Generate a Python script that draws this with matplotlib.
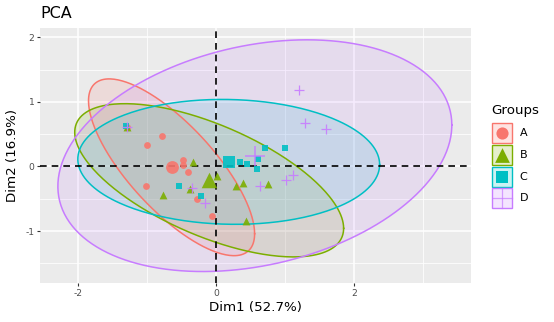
import numpy as np
import matplotlib
matplotlib.use('Agg')
import matplotlib.pyplot as plt
from matplotlib.patches import Rectangle
from matplotlib.colors import to_rgb

# ---------------- data ----------------
groups = ['A', 'B', 'C', 'D']
colors = ['#F8766D', '#7CAE00', '#00BFC4', '#C77CFF']
markers = ['o', '^', 's', '+']

a_x = [-1.29, -0.78, -1.00, -0.48, -0.47, -0.41, -1.02, -0.28, -0.05]
a_y = [0.62, 0.48, 0.33, 0.10, 0.03, -0.09, -0.30, -0.51, -0.77]
b_x = [-1.29, -0.33, -0.76, -0.38, 0.02, 0.29, 0.39, 0.76, 0.43]
b_y = [0.62, 0.065, -0.44, -0.35, -0.14, -0.30, -0.26, -0.27, -0.85]
c_x = [-1.30, -0.54, -0.21, 0.35, 0.45, 0.61, 0.59, 0.72, 1.01]
c_y = [0.63, -0.31, -0.45, 0.075, 0.04, 0.12, -0.04, 0.29, 0.29]
d_x = [-1.29, 1.21, 1.29, 1.60, 1.12, 1.02, 0.64, -0.16, -0.34]
d_y = [0.62, 1.18, 0.67, 0.58, -0.13, -0.21, -0.30, -0.57, -0.33]

group_x = [a_x, b_x, c_x, d_x]
group_y = [a_y, b_y, c_y, d_y]

x_ticks = [-2, 0, 2]
y_ticks = [-1, 0, 1, 2]
x_label = 'Dim1 (52.7%)'
y_label = 'Dim2 (16.9%)'
title = 'PCA'
legend_title = 'Groups'

# F quantile qf(0.95, 2, n-1) with n = 9 (normal-type 95% ellipse)
F_Q = 4.459

# ---------------- figure ----------------
plt.rcParams['axes.unicode_minus'] = False
W, H = 554, 322
fig = plt.figure(figsize=(W / 100, H / 100), dpi=100)
L, R, T, B = 40, 471, 28, 283
ax = fig.add_axes([L / W, 1 - B / H, (R - L) / W, (B - T) / H])
ax.set_facecolor('#EBEBEB')
for s in ax.spines.values():
    s.set_visible(False)

ax.set_xticks(x_ticks)
ax.set_yticks(y_ticks)
ax.set_xticks([-1, 1, 3], minor=True)
ax.set_yticks([-1.5, -0.5, 0.5, 1.5], minor=True)
ax.set_xlim(-2.55, 3.70)
ax.set_ylim(-1.806, 2.147)
ax.grid(True, which='major', color='white', lw=1.1, zorder=0)
ax.grid(True, which='minor', color='white', lw=0.55, zorder=0)
ax.set_axisbelow(True)
ax.tick_params(which='major', length=2.5, width=0.8, color='#333333',
               labelsize=6.6, labelcolor='#4D4D4D', pad=1.5)
ax.tick_params(which='minor', length=0)

t = np.linspace(0, 2 * np.pi, 300)
circle = np.vstack([np.cos(t), np.sin(t)])
r = np.sqrt(2 * F_Q)

for gx, gy, col in zip(group_x, group_y, colors):
    gx = np.array(gx); gy = np.array(gy)
    cov = np.cov(gx, gy)
    chol = np.linalg.cholesky(cov)
    pts = np.array([[gx.mean()], [gy.mean()]]) + r * chol @ circle
    ax.fill(pts[0], pts[1], color=col, alpha=0.14, lw=0, zorder=1)
    ax.plot(pts[0], pts[1], color=col, lw=1.1, zorder=2)

ax.axhline(0, color='black', lw=1.2, ls=(0, (4, 3)), zorder=3)
ax.axvline(0, color='black', lw=1.2, ls=(0, (4, 3)), zorder=3)

small_sizes = {'o': 24, '^': 32, 's': 22, '+': 60}
big_sizes = {'o': 85, '^': 125, 's': 80, '+': 200}
for gx, gy, col, m in zip(group_x, group_y, colors, markers):
    ax.scatter(gx, gy, marker=m, s=small_sizes[m], color=col,
               lw=(0.9 if m == '+' else 0), alpha=0.9, zorder=4)
    ax.scatter([np.mean(gx)], [np.mean(gy)], marker=m, s=big_sizes[m], color=col,
               lw=(1.1 if m == '+' else 0), alpha=0.9, zorder=5)

fig.text(L / W, 1 - 14 / H, title, fontsize=11.5, color='black', ha='left', va='center')
fig.text((L + R) / 2 / W, 1 - 307 / H, x_label, fontsize=9.6, ha='center', va='center')
fig.text(13 / W, 1 - 155 / H, y_label, fontsize=9.6, ha='center', va='center', rotation=90)

# ---------------- legend ----------------
lg = fig.add_axes([0, 0, 1, 1], zorder=10)
lg.set_xlim(0, W)
lg.set_ylim(H, 0)
lg.axis('off')
lg.text(491.5, 110, legend_title, fontsize=9.6, ha='left', va='center')
key_tops = [122.7, 145, 166.7, 188.3]
for top, g, col, m in zip(key_tops, groups, colors, markers):
    rgb = np.array(to_rgb(col))
    fill = 1 - 0.2 * (1 - rgb)
    lg.add_patch(Rectangle((492.3, top), 20, 20, facecolor=fill, edgecolor=col, lw=1.0))
    cx, cy = 502.3, top + 10
    if m == '+':
        lg.plot([492.8, 511.8], [cy, cy], color=col, lw=0.9, alpha=0.7)
        lg.plot([cx, cx], [top + 0.5, top + 19.5], color=col, lw=0.9, alpha=0.7)
    else:
        lg.scatter([cx], [cy], marker=m, s=big_sizes[m] * 0.9, color=col, lw=0)
    lg.text(519.5, cy, g, fontsize=8, ha='left', va='center')

fig.savefig('out.png', dpi=100)
